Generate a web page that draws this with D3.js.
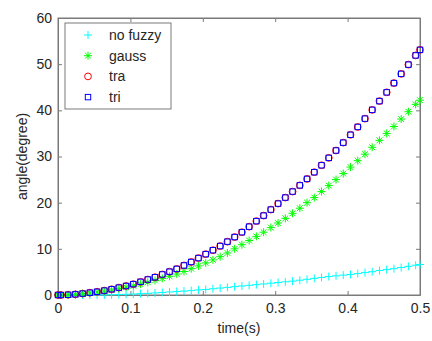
<!DOCTYPE html>
<html>
<head>
<meta charset="utf-8">
<script src="https://cdn.jsdelivr.net/npm/d3@7"></script>
<style>
  body { margin: 0; background: #fff; }
  svg { display: block; }
  text { font-family: "Liberation Sans", Arial, sans-serif; }
</style>
</head>
<body>
<svg width="432" height="341"></svg>
<script>
// sample times (s)
const times = [0, 0.004, 0.014, 0.024, 0.034, 0.044, 0.054, 0.064, 0.074, 0.084, 0.094,
  0.104, 0.114, 0.124, 0.134, 0.144, 0.154, 0.164, 0.174, 0.184, 0.194,
  0.204, 0.214, 0.224, 0.234, 0.244, 0.254, 0.264, 0.274, 0.284, 0.294,
  0.304, 0.314, 0.324, 0.334, 0.344, 0.354, 0.364, 0.374, 0.384, 0.394,
  0.404, 0.414, 0.424, 0.434, 0.444, 0.454, 0.464, 0.474, 0.484, 0.494, 0.5];

const noFuzzy = [0, 0, 0, 0, 0, 0, 0, 0.02, 0.05, 0.1, 0.15,
  0.2, 0.3, 0.35, 0.45, 0.55, 0.65, 0.75, 0.85, 0.95, 1.1,
  1.2, 1.35, 1.5, 1.65, 1.8, 1.95, 2.1, 2.25, 2.4, 2.55,
  2.7, 2.85, 3.0, 3.2, 3.4, 3.6, 3.8, 4.0, 4.15, 4.3,
  4.45, 4.65, 4.85, 5.05, 5.3, 5.5, 5.7, 5.95, 6.2, 6.45, 6.6];

const gauss = [0, 0, 0.05, 0.15, 0.3, 0.45, 0.65, 0.85, 1.1, 1.4, 1.7,
  2.0, 2.35, 2.75, 3.15, 3.6, 4.05, 4.55, 5.1, 5.7, 6.3,
  6.95, 7.6, 8.3, 9.1, 10.0, 10.9, 11.8, 12.7, 13.6, 14.6,
  15.6, 16.6, 17.7, 18.8, 20.0, 21.1, 22.4, 23.7, 25.0, 26.3,
  27.7, 29.1, 30.5, 32.0, 33.5, 35.0, 36.5, 38.1, 39.7, 41.3, 42.2];

const tra = [0, 0, 0.05, 0.15, 0.3, 0.5, 0.7, 0.95, 1.25, 1.6, 1.95,
  2.35, 2.85, 3.35, 3.85, 4.45, 5.05, 5.65, 6.4, 7.15, 8.0,
  8.85, 9.7, 10.6, 11.55, 12.55, 13.6, 14.8, 16.0, 17.2, 18.5,
  19.8, 21.1, 22.4, 23.75, 25.15, 26.6, 28.1, 29.7, 31.3, 33.0,
  34.7, 36.4, 38.2, 40.1, 42.0, 43.9, 45.9, 47.9, 49.9, 51.9, 53.1];

const tri = [0, 0, 0.05, 0.15, 0.3, 0.5, 0.7, 0.95, 1.25, 1.6, 1.95,
  2.35, 2.85, 3.35, 3.85, 4.45, 5.05, 5.65, 6.4, 7.15, 8.0,
  8.85, 9.7, 10.6, 11.55, 12.55, 13.6, 14.8, 16.0, 17.2, 18.5,
  19.8, 21.1, 22.4, 23.75, 25.15, 26.6, 28.1, 29.7, 31.3, 33.0,
  34.7, 36.4, 38.2, 40.1, 42.0, 43.9, 45.9, 47.9, 49.9, 51.9, 53.1];

const xTicks = [0, 0.1, 0.2, 0.3, 0.4, 0.5];
const yTicks = [0, 10, 20, 30, 40, 50, 60];
const seriesNames = ["no fuzzy", "gauss", "tra", "tri"];

const svg = d3.select("svg");
const m = {left: 58, right: 420, top: 18, bottom: 295};
const axisColor = "#7a7a7a", textColor = "#262626";
const fontSize = "14px";

const x = d3.scaleLinear().domain([0, 0.5]).range([m.left, m.right]);
const y = d3.scaleLinear().domain([0, 60]).range([m.bottom, m.top]);

// markers, MATLAB style
function marker(g, type) {
  if (type === "plus") {
    g.append("path").attr("d", "M-4,0H4M0,-4V4")
      .attr("stroke", "#00ffff").attr("stroke-width", 1).attr("fill", "none");
  } else if (type === "star") {
    g.append("path").attr("d", "M-4,0H4M0,-4V4M-2.9,-2.9L2.9,2.9M-2.9,2.9L2.9,-2.9")
      .attr("stroke", "#00ff00").attr("stroke-width", 1).attr("fill", "none");
  } else if (type === "circle") {
    g.append("circle").attr("r", 3.4)
      .attr("stroke", "#ff0000").attr("stroke-width", 1).attr("fill", "none");
  } else {
    g.append("rect").attr("x", -2.7).attr("y", -2.7).attr("width", 5.4).attr("height", 5.4)
      .attr("stroke", "#0000ff").attr("stroke-width", 1).attr("fill", "none");
  }
}

const series = [
  {name: seriesNames[0], values: noFuzzy, type: "plus"},
  {name: seriesNames[1], values: gauss, type: "star"},
  {name: seriesNames[2], values: tra, type: "circle"},
  {name: seriesNames[3], values: tri, type: "square"}
];

// axes box
svg.append("rect")
  .attr("x", m.left).attr("y", m.top)
  .attr("width", m.right - m.left).attr("height", m.bottom - m.top)
  .attr("fill", "#fff").attr("stroke", axisColor).attr("stroke-width", 1);

svg.append("g").attr("transform", `translate(0,${m.bottom})`)
  .call(d3.axisBottom(x).tickValues(xTicks).tickFormat(d => d === 0 ? "0" : d3.format(".1f")(d))
    .tickSizeInner(-4).tickSizeOuter(0).tickPadding(8));
svg.append("g").attr("transform", `translate(${m.left},0)`)
  .call(d3.axisLeft(y).tickValues(yTicks).tickSizeInner(-4).tickSizeOuter(0).tickPadding(6));
svg.append("g").attr("transform", `translate(0,${m.top})`)
  .call(d3.axisTop(x).tickValues(xTicks).tickFormat("").tickSizeInner(-4).tickSizeOuter(0));
svg.append("g").attr("transform", `translate(${m.right},0)`)
  .call(d3.axisRight(y).tickValues(yTicks).tickFormat("").tickSizeInner(-4).tickSizeOuter(0));

svg.selectAll(".domain").attr("stroke", axisColor);
svg.selectAll(".tick line").attr("stroke", axisColor);
svg.selectAll(".tick text")
  .attr("fill", textColor)
  .style("font-size", fontSize)
  .style("font-family", "'Liberation Sans', Arial, sans-serif");

// data
series.forEach(s => {
  svg.append("g").selectAll("g")
    .data(s.values.map((v, i) => [times[i], v]))
    .enter().append("g")
    .attr("transform", d => `translate(${x(d[0])},${y(d[1])})`)
    .each(function() { marker(d3.select(this), s.type); });
});

// axis labels
svg.append("text")
  .attr("x", (m.left + m.right) / 2).attr("y", 333)
  .attr("text-anchor", "middle")
  .attr("fill", textColor).style("font-size", fontSize)
  .text("time(s)");
svg.append("text")
  .attr("transform", `translate(27,${(m.top + m.bottom) / 2}) rotate(-90)`)
  .attr("text-anchor", "middle")
  .attr("fill", textColor).style("font-size", fontSize)
  .text("angle(degree)");

// legend
const legend = svg.append("g");
legend.append("rect")
  .attr("x", 65).attr("y", 23).attr("width", 106).attr("height", 86)
  .attr("fill", "#fff").attr("stroke", axisColor).attr("stroke-width", 1);
series.forEach((s, i) => {
  const row = legend.append("g").attr("transform", `translate(88,${35 + i * 20.7})`);
  marker(row, s.type);
  row.append("text").attr("x", 21).attr("y", 0).attr("dy", "0.35em")
    .attr("fill", textColor).style("font-size", fontSize).text(s.name);
});
</script>
</body>
</html>
